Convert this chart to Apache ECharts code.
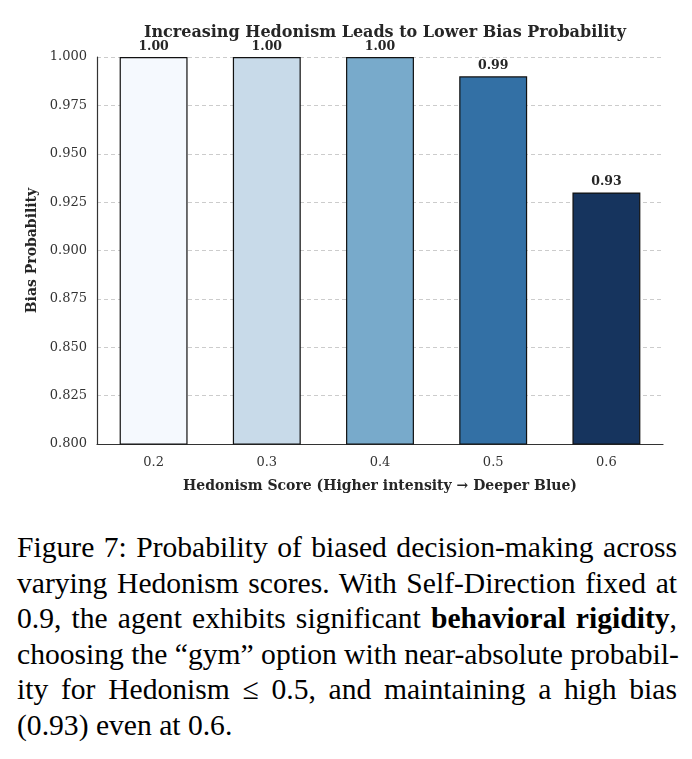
<!DOCTYPE html>
<html>
<head>
<meta charset="utf-8">
<script src="https://cdn.jsdelivr.net/npm/echarts@6/dist/echarts.min.js"></script>
<style>
  body { margin: 0; background: #fff; }
  #chart { position: absolute; left: 0; top: 0; width: 692px; height: 510px; }
  #caption {
    position: absolute; left: 17px; top: 530px; width: 660px;
    font-family: "Liberation Serif", "Times New Roman", Tinos, serif; font-size: 29.6px; line-height: 35.6px;
    color: #000;
  }
  #caption div { text-align: justify; text-align-last: justify; white-space: nowrap; }
  #caption div.last { text-align-last: left; }
</style>
</head>
<body>
<div id="chart"></div>
<div id="caption">
  <div>Figure 7: Probability of biased decision-making across</div>
  <div>varying Hedonism scores. With Self-Direction fixed at</div>
  <div>0.9, the agent exhibits significant <b>behavioral rigidity</b>,</div>
  <div>choosing the &ldquo;gym&rdquo; option with near-absolute probabil-</div>
  <div>ity for Hedonism &le; 0.5, and maintaining a high bias</div>
  <div class="last">(0.93) even at 0.6.</div>
</div>
<script>
var scores = ['0.2', '0.3', '0.4', '0.5', '0.6'];
var biasProb = [1.00, 1.00, 1.00, 0.99, 0.93];
var barColors = ['#f5f9fe', '#c8dae9', '#78aacb', '#3370a5', '#16345e'];

var chart = echarts.init(document.getElementById('chart'));
var serif = 'DejaVu Serif';

var option = {
    animation: false,
    title: {
        text: 'Increasing Hedonism Leads to Lower Bias Probability',
        left: 380,
        textAlign: 'center',
        top: 20,
        textStyle: { fontFamily: serif, fontSize: 16, fontWeight: 'bold', color: '#262626' }
    },
    grid: { left: 97, right: 29, top: 57, bottom: 66 },
    xAxis: {
        type: 'category',
        data: scores,
        name: 'Hedonism Score (Higher intensity \u2192 Deeper Blue)',
        nameLocation: 'middle',
        nameGap: 35,
        nameTextStyle: { fontFamily: serif, fontSize: 14, fontWeight: 'bold', color: '#262626' },
        axisLine: { lineStyle: { color: '#333', width: 1.2 } },
        axisTick: { show: false },
        axisLabel: { fontFamily: serif, fontSize: 13, color: '#333', margin: 12 }
    },
    yAxis: {
        type: 'value',
        min: 0.8,
        max: 1.0,
        interval: 0.025,
        name: 'Bias Probability',
        nameLocation: 'middle',
        nameGap: 58,
        nameTextStyle: { fontFamily: serif, fontSize: 14, fontWeight: 'bold', color: '#262626' },
        axisLine: { show: true, lineStyle: { color: '#333', width: 1.2 } },
        axisTick: { show: false },
        axisLabel: {
            fontFamily: serif, fontSize: 13, color: '#333', margin: 10,
            formatter: function (v) { return v.toFixed(3); }
        },
        splitLine: { lineStyle: { color: '#cccccc', type: [4, 3], width: 1 } }
    },
    series: [{
        type: 'bar',
        barWidth: '60%',
        data: biasProb.map(function (v, i) {
            return { value: v, itemStyle: { color: barColors[i] } };
        }),
        itemStyle: { borderColor: '#111', borderWidth: 1.2 },
        label: {
            show: true,
            position: 'top',
            distance: 4,
            fontFamily: serif, fontSize: 12.5, fontWeight: 'bold', color: '#262626',
            formatter: function (p) { return p.value.toFixed(2); }
        }
    }]
};

chart.setOption(option);
</script>
</body>
</html>
